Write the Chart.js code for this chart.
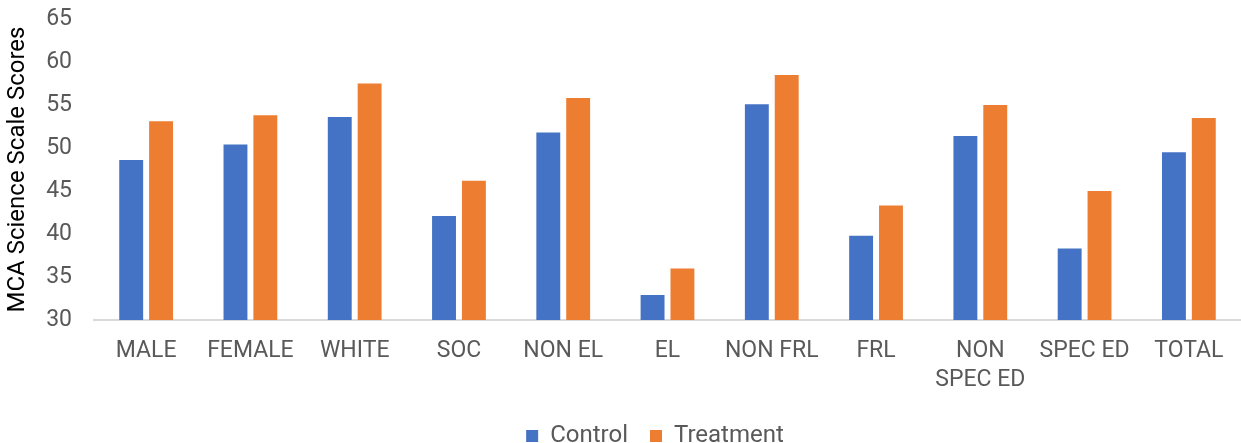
<!DOCTYPE html>
<html>
<head>
<meta charset="utf-8">
<script src="https://cdn.jsdelivr.net/npm/chart.js@4/dist/chart.umd.min.js"></script>
<style>
  html, body { margin: 0; padding: 0; background: #ffffff; }
  #wrap { width: 1241px; height: 443px; position: relative; }
</style>
</head>
<body>
<div id="wrap"><canvas id="c"></canvas></div>
<script>
const categories = ["MALE", "FEMALE", "WHITE", "SOC", "NON EL", "EL", "NON FRL", "FRL", ["NON", "SPEC ED"], "SPEC ED", "TOTAL"];
const controlScores = [48.6, 50.4, 53.6, 42.1, 51.8, 32.9, 55.1, 39.8, 51.4, 38.3, 49.5];
const treatmentScores = [53.1, 53.8, 57.5, 46.2, 55.8, 36.0, 58.5, 43.3, 55.0, 45.0, 53.5];
const yTicks = [30, 35, 40, 45, 50, 55, 60, 65];

const legendShift = {
  id: 'legendShift',
  afterLayout(chart) {
    const lg = chart.legend;
    if (lg) { lg.left += 31; lg.right += 31; }
  }
};

new Chart(document.getElementById('c'), {
  type: 'bar',
  data: {
    labels: categories,
    datasets: [
      { label: 'Control', data: controlScores, backgroundColor: '#4472C4',
        categoryPercentage: 0.573, barPercentage: 0.8 },
      { label: 'Treatment', data: treatmentScores, backgroundColor: '#ED7D31',
        categoryPercentage: 0.573, barPercentage: 0.8 }
    ]
  },
  plugins: [legendShift],
  options: {
    responsive: true,
    maintainAspectRatio: false,
    animation: false,
    layout: { padding: { left: 2, right: -5, top: 19, bottom: -15 } },
    plugins: {
      tooltip: { enabled: false },
      legend: {
        position: 'bottom',
        labels: {
          font: { family: 'Roboto', size: 24 },
          color: '#595959',
          boxWidth: 12, boxHeight: 12,
          padding: 22
        }
      }
    },
    scales: {
      x: {
        grid: { display: false, drawTicks: false },
        border: { display: true, color: '#d9d9d9', width: 2 },
        ticks: {
          font: { family: 'Roboto', size: 23, lineHeight: 1.25 },
          color: '#595959',
          maxRotation: 0, autoSkip: false, padding: 17
        },
        afterFit: (s) => { s.height = 82; s.paddingLeft = 0; s.paddingRight = 0; }
      },
      y: {
        min: 30, max: 65,
        afterBuildTicks: (axis) => { axis.ticks = yTicks.map(v => ({ value: v })); },
        grid: { display: false, drawTicks: false },
        border: { display: false },
        ticks: {
          font: { family: 'Roboto', size: 23 },
          color: '#595959',
          padding: 22
        },
        title: {
          display: true,
          text: 'MCA Science Scale Scores',
          font: { family: 'Roboto', size: 24 },
          color: '#000000',
          padding: 2
        },
        afterFit: (s) => { s.width = 92; s.paddingTop = 0; s.paddingBottom = 0; }
      }
    }
  }
});
</script>
</body>
</html>
